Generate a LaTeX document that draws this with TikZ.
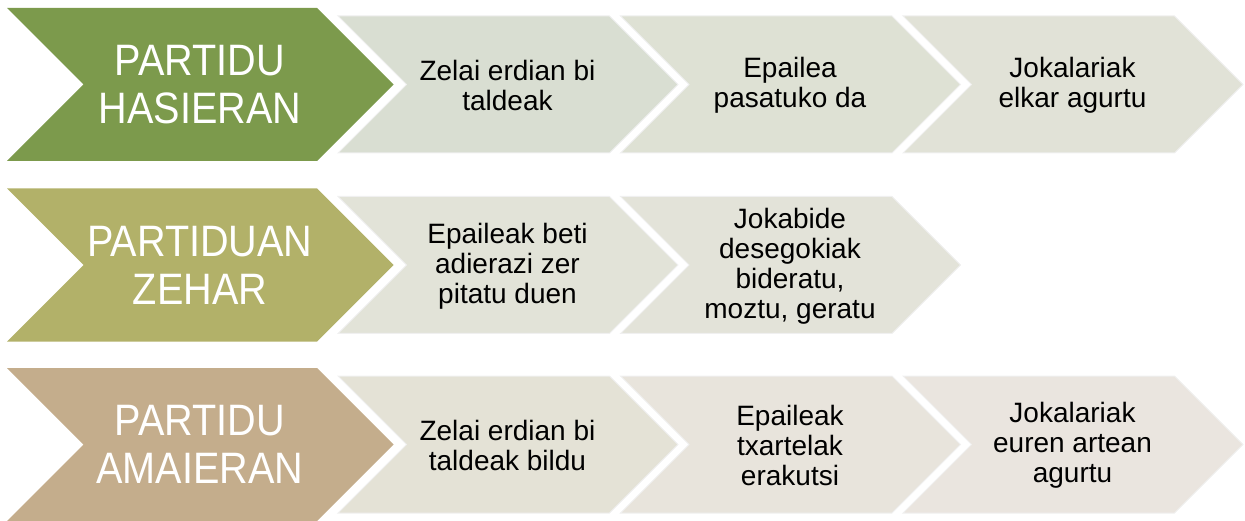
\documentclass[tikz,border=0pt]{standalone}
\usepackage{fontspec}
\setmainfont{Liberation Sans}
\newfontfamily\headfont[FakeStretch=0.9]{Liberation Sans}

\definecolor{headA}{RGB}{124,154,76}
\definecolor{headB}{RGB}{178,177,105}
\definecolor{headC}{RGB}{196,173,140}
\definecolor{stepAa}{RGB}{217,222,210}
\definecolor{stepAb}{RGB}{222,225,212}
\definecolor{stepAc}{RGB}{225,226,215}
\definecolor{stepBa}{RGB}{226,227,216}
\definecolor{stepBb}{RGB}{227,227,217}
\definecolor{stepCa}{RGB}{228,226,214}
\definecolor{stepCb}{RGB}{232,228,220}
\definecolor{stepCc}{RGB}{234,229,223}

\tikzset{
  headchev/.style={draw=none},
  stepchev/.style={draw=black!6, line width=1pt},
  headtext/.style={text=white, align=center, font=\headfont\fontsize{44}{48}\selectfont},
  steptext/.style={text=black, align=center, font=\fontsize{28}{30}\selectfont}
}

\begin{document}
\begin{tikzpicture}[x=1pt, y=-1pt]
\useasboundingbox (0,0) rectangle (1245,521);

% Row 1: match start
\fill[headA] (7,8) -- ++(310,0) -- ++(76.5,76.5) -- ++(-76.5,76.5) -- ++(-310,0) -- ++(76.5,-76.5) -- cycle;
\filldraw[stepchev, fill=stepAa] (338,16) -- ++(271.5,0) -- ++(68.5,68.5) -- ++(-68.5,68.5) -- ++(-271.5,0) -- ++(68.5,-68.5) -- cycle;
\filldraw[stepchev, fill=stepAb] (620.5,16) -- ++(271.5,0) -- ++(68.5,68.5) -- ++(-68.5,68.5) -- ++(-271.5,0) -- ++(68.5,-68.5) -- cycle;
\filldraw[stepchev, fill=stepAc] (903,16) -- ++(271.5,0) -- ++(68.5,68.5) -- ++(-68.5,68.5) -- ++(-271.5,0) -- ++(68.5,-68.5) -- cycle;
\node[headtext] (hasiera) at (200,84.5) {PARTIDU\\HASIERAN};
\node[steptext] (hasA) at (507.5,85.5) {Zelai erdian bi\\taldeak};
\node[steptext] (hasB) at (790,85.5) {Epailea\\pasatuko da};
\node[steptext] (hasC) at (1072.5,85.5) {Jokalariak\\elkar agurtu};

% Row 2: during the match
\fill[headB] (7,188.5) -- ++(310,0) -- ++(76.5,76.5) -- ++(-76.5,76.5) -- ++(-310,0) -- ++(76.5,-76.5) -- cycle;
\filldraw[stepchev, fill=stepBa] (338,196.5) -- ++(271.5,0) -- ++(68.5,68.5) -- ++(-68.5,68.5) -- ++(-271.5,0) -- ++(68.5,-68.5) -- cycle;
\filldraw[stepchev, fill=stepBb] (620.5,196.5) -- ++(271.5,0) -- ++(68.5,68.5) -- ++(-68.5,68.5) -- ++(-271.5,0) -- ++(68.5,-68.5) -- cycle;
\node[headtext] (zehar) at (200,265) {PARTIDUAN\\ZEHAR};
\node[steptext] (zehA) at (507.5,266) {Epaileak beti\\adierazi zer\\pitatu duen};
\node[steptext] (zehB) at (790,266) {Jokabide\\desegokiak\\bideratu,\\moztu, geratu};

% Row 3: match end
\fill[headC] (7,368) -- ++(310,0) -- ++(76.5,76.5) -- ++(-76.5,76.5) -- ++(-310,0) -- ++(76.5,-76.5) -- cycle;
\filldraw[stepchev, fill=stepCa] (338,376) -- ++(271.5,0) -- ++(68.5,68.5) -- ++(-68.5,68.5) -- ++(-271.5,0) -- ++(68.5,-68.5) -- cycle;
\filldraw[stepchev, fill=stepCb] (620.5,376) -- ++(271.5,0) -- ++(68.5,68.5) -- ++(-68.5,68.5) -- ++(-271.5,0) -- ++(68.5,-68.5) -- cycle;
\filldraw[stepchev, fill=stepCc] (903,376) -- ++(271.5,0) -- ++(68.5,68.5) -- ++(-68.5,68.5) -- ++(-271.5,0) -- ++(68.5,-68.5) -- cycle;
\node[headtext] (amaiera) at (200,444.5) {PARTIDU\\AMAIERAN};
\node[steptext] (amaA) at (507.5,445.5) {Zelai erdian bi\\taldeak bildu};
\node[steptext] (amaB) at (790,445.5) {Epaileak\\txartelak\\erakutsi};
\node[steptext] (amaC) at (1072.5,445.5) {Jokalariak\\euren artean\\agurtu};

\end{tikzpicture}
\end{document}
